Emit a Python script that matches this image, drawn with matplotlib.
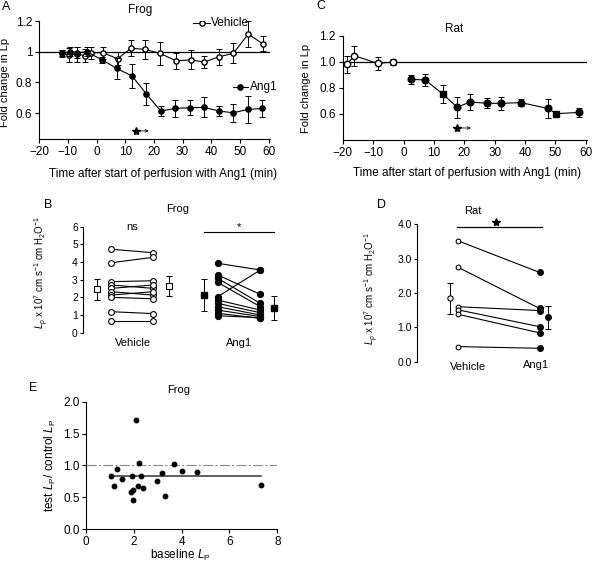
import numpy as np
import matplotlib
matplotlib.use("Agg")
import matplotlib.pyplot as plt

plt.rcParams['font.family'] = ['Liberation Sans', 'DejaVu Sans']
plt.rcParams['mathtext.fontset'] = 'custom'
plt.rcParams['mathtext.rm'] = 'Liberation Sans'
plt.rcParams['mathtext.it'] = 'Liberation Sans:italic'
plt.rcParams['font.size'] = 8
plt.rcParams['axes.linewidth'] = 0.8
plt.rcParams['xtick.major.size'] = 3
plt.rcParams['ytick.major.size'] = 3
plt.rcParams['xtick.major.width'] = 0.8
plt.rcParams['ytick.major.width'] = 0.8

W, H = 592, 566

# -----------------------------
# Panel A: frog time course
# -----------------------------
frog_veh_t = [-12.2, -9.5, -6.7, -4.1, -2.0, 2.3, 7.3, 12.0, 16.9, 22.1, 27.7, 32.8, 37.6, 42.7, 47.7, 52.9, 57.9]
frog_veh_y = [0.989, 0.978, 0.983, 0.974, 0.993, 0.993, 0.954, 1.022, 1.015, 0.989, 0.941, 0.946, 0.933, 0.967, 0.989, 1.115, 1.052]
frog_veh_err = [0.022, 0.043, 0.049, 0.043, 0.038, 0.038, 0.043, 0.051, 0.06, 0.076, 0.053, 0.062, 0.038, 0.051, 0.065, 0.082, 0.047]

frog_ang_t = [-12.2, -9.3, -6.7, -3.5, 2.0, 7.0, 12.4, 17.4, 22.4, 27.3, 32.6, 37.6, 42.7, 47.7, 52.9, 57.8]
frog_ang_y = [0.989, 1.0, 0.993, 1.0, 0.946, 0.891, 0.841, 0.724, 0.613, 0.63, 0.635, 0.637, 0.613, 0.602, 0.624, 0.63]
frog_ang_err = [0.02, 0.03, 0.035, 0.03, 0.022, 0.07, 0.076, 0.073, 0.035, 0.054, 0.049, 0.065, 0.035, 0.057, 0.089, 0.057]

# -----------------------------
# Panel C: rat time course
# -----------------------------
rat_veh_t = [-18.7, -16.2, -8.5, -3.5]
rat_veh_y = [0.98, 1.046, 0.987, 0.997]
rat_veh_err = [0.064, 0.078, 0.049, 0.023]

rat_ang_t = [2.3, 7.1, 13.0, 17.6, 22.0, 27.5, 32.0, 38.7, 47.6, 50.3, 57.8]
rat_ang_y = [0.864, 0.86, 0.75, 0.65, 0.69, 0.68, 0.68, 0.685, 0.64, 0.60, 0.61]
rat_ang_err = [0.032, 0.046, 0.068, 0.082, 0.065, 0.038, 0.049, 0.026, 0.07, 0.01, 0.037]

# -----------------------------
# Panel B: frog paired Lp
# -----------------------------
frog_veh_before = [4.72, 3.96, 2.89, 2.70, 2.51, 2.32, 2.13, 2.00, 1.19, 0.68]
frog_veh_after = [4.53, 4.27, 2.94, 2.51, 2.70, 2.13, 2.32, 1.92, 1.08, 0.68]
frog_veh_mean = [2.45, 2.64]
frog_veh_sem = [0.58, 0.57]

frog_ang_before = [3.93, 3.27, 3.08, 2.85, 2.04, 1.85, 1.66, 1.47, 1.28, 1.10, 0.96]
frog_ang_after = [3.55, 2.17, 1.66, 1.47, 3.55, 1.28, 1.13, 1.00, 0.91, 0.81, 0.85]
frog_ang_mean = [2.13, 1.42]
frog_ang_sem = [0.89, 0.68]

# -----------------------------
# Panel D: rat paired Lp
# -----------------------------
rat_before = [3.52, 2.75, 1.60, 1.51, 1.38, 0.44]
rat_after = [2.60, 1.55, 1.49, 1.02, 0.84, 0.39]
rat_mean = [1.85, 1.29]
rat_sem = [0.45, 0.33]

# -----------------------------
# Panel E: ratio vs baseline
# -----------------------------
base_lp = [1.04, 1.29, 1.19, 1.51, 1.88, 1.97, 1.96, 1.94, 2.08, 2.18, 2.22, 2.29, 2.40, 2.96, 3.17, 3.29, 3.69, 4.00, 4.65, 7.31]
ratio_lp = [0.835, 0.94, 0.68, 0.79, 0.59, 0.62, 0.46, 0.835, 1.72, 0.68, 1.04, 0.835, 0.65, 0.75, 0.89, 0.52, 1.02, 0.91, 0.90, 0.69]
ratio_mean = 0.84


def box(l, t, r, b):
    # pixel box -> figure fraction rect
    return [l / W, 1 - b / H, (r - l) / W, (b - t) / H]


def fpos(x, y):
    return x / W, 1 - y / H


fig = plt.figure(figsize=(W / 100, H / 100), dpi=100)

ebkw = dict(color='black', lw=0.8, elinewidth=0.7, capsize=2.2, capthick=0.7, mec='black')

# ---------- A ----------
axA = fig.add_axes(box(39.3, 21, 270, 138.7))
axA.axhline(1.0, color='black', lw=0.9, zorder=1)
axA.errorbar(frog_veh_t, frog_veh_y, yerr=frog_veh_err, fmt='-o', ms=3.8, mfc='white', zorder=3, **ebkw)
axA.errorbar(frog_ang_t, frog_ang_y, yerr=frog_ang_err, fmt='-o', ms=3.8, mfc='black', zorder=4, **ebkw)
axA.set_xlim(-20, 60.5)
axA.set_ylim(0.433, 1.2)
axA.set_xticks(range(-20, 61, 10))
axA.set_yticks([0.6, 0.8, 1.0, 1.2])
axA.set_yticklabels(['0.6', '0.8', '1', '1.2'])
axA.spines[['top', 'right']].set_visible(False)
axA.tick_params(labelsize=8.5, pad=2)
axA.set_ylabel('Fold change in Lp', fontsize=8)
axA.yaxis.set_label_coords(*fpos(10.5, 82), transform=fig.transFigure)
axA.set_xlabel('Time after start of perfusion with Ang1 (min)', fontsize=8.5)
axA.xaxis.set_label_coords(*fpos(163.5, 168), transform=fig.transFigure)
# in-plot series labels
axA.plot([33.5, 39.5], [1.19, 1.19], color='black', lw=0.8)
axA.plot([36.9], [1.19], 'o', ms=3.8, mfc='white', mec='black')
axA.text(39.8, 1.19, 'Vehicle', fontsize=8.5, va='center', ha='left')
axA.plot([47.7, 52.9], [0.767, 0.767], color='black', lw=0.8)
axA.plot([50.2], [0.767], 'o', ms=3.8, color='black')
axA.text(53.4, 0.767, 'Ang1', fontsize=8.5, va='center', ha='left')
# significance star + arrow
axA.plot([13.7], [0.484], marker='*', ms=6, color='black', clip_on=False)
axA.annotate('', xy=(18.2, 0.484), xytext=(15.0, 0.484),
             arrowprops=dict(arrowstyle='->', lw=0.6, color='black', shrinkA=0, shrinkB=0,
                             mutation_scale=5))
fig.text(*fpos(140, 9.5), 'Frog', fontsize=8.5, ha='center', va='center')
fig.text(*fpos(6, 7), 'A', fontsize=9, ha='center', va='center')

# ---------- C ----------
axC = fig.add_axes(box(342.8, 35.7, 586.7, 139.7))
axC.axhline(1.0, color='black', lw=0.9, zorder=1)
axC.errorbar(rat_veh_t, rat_veh_y, yerr=rat_veh_err, fmt='-o', ms=4.6, mfc='white', zorder=3, **ebkw)
axC.errorbar(rat_ang_t, rat_ang_y, yerr=rat_ang_err, fmt='-', zorder=3, **ebkw)
sq = [2, 9]
circ = [i for i in range(len(rat_ang_t)) if i not in sq]
axC.plot([rat_ang_t[i] for i in circ], [rat_ang_y[i] for i in circ], 'o', ms=4.8, color='black', zorder=4)
axC.plot([rat_ang_t[i] for i in sq], [rat_ang_y[i] for i in sq], 's', ms=4.6, color='black', zorder=4)
axC.set_xlim(-20, 60.3)
axC.set_ylim(0.4, 1.2)
axC.set_xticks(range(-20, 61, 10))
axC.set_yticks([0.6, 0.8, 1.0, 1.2])
axC.set_yticklabels(['0.6', '0.8', '1.0', '1.2'])
axC.spines[['top', 'right']].set_visible(False)
axC.tick_params(labelsize=8.5, pad=2)
axC.set_ylabel('Fold change in Lp', fontsize=8)
axC.yaxis.set_label_coords(*fpos(311, 88), transform=fig.transFigure)
axC.set_xlabel('Time after start of perfusion with Ang1 (min)', fontsize=8.5)
axC.xaxis.set_label_coords(*fpos(467.5, 167), transform=fig.transFigure)
axC.plot([17.6], [0.49], marker='*', ms=6, color='black', clip_on=False)
axC.annotate('', xy=(22.2, 0.49), xytext=(18.9, 0.49),
             arrowprops=dict(arrowstyle='->', lw=0.6, color='black', shrinkA=0, shrinkB=0,
                             mutation_scale=5))
fig.text(*fpos(454.3, 29.3), 'Rat', fontsize=8.5, ha='center', va='center')
fig.text(*fpos(320.7, 6), 'C', fontsize=9, ha='center', va='center')

# ---------- B ----------
axB = fig.add_axes(box(82.7, 226.7, 290, 332.7))
xb = dict(vm0=0.070, vp0=0.138, vp1=0.340, vm1=0.414, am0=0.586, ap0=0.651, ap1=0.857, am1=0.923)
for a, b in zip(frog_veh_before, frog_veh_after):
    axB.plot([xb['vp0'], xb['vp1']], [a, b], '-o', color='black', lw=0.8, ms=4.2,
             mfc='white', mec='black', mew=0.8, clip_on=False)
for a, b in zip(frog_ang_before, frog_ang_after):
    axB.plot([xb['ap0'], xb['ap1']], [a, b], '-o', color='black', lw=0.8, ms=4.2,
             mec='black', clip_on=False)
axB.errorbar([xb['vm0'], xb['vm1']], frog_veh_mean, yerr=frog_veh_sem, fmt='s', ms=4.8,
             mfc='white', mec='black', mew=0.8, ecolor='black', elinewidth=0.7, capsize=2, capthick=0.7)
axB.errorbar([xb['am0'], xb['am1']], frog_ang_mean, yerr=frog_ang_sem, fmt='s', ms=4.8,
             color='black', elinewidth=0.7, capsize=2, capthick=0.7)
axB.plot([xb['am0'] - 0.003, xb['am1']], [5.72, 5.72], color='black', lw=0.8, clip_on=False)
axB.text((xb['am0'] + xb['am1']) / 2, 6.0, '*', fontsize=8, ha='center', va='center')
axB.text((xb['vp0'] + xb['vp1']) / 2, 6.0, 'ns', fontsize=8, ha='center', va='center')
axB.set_xlim(0, 1)
axB.set_ylim(0, 6)
axB.set_yticks(range(0, 7))
axB.set_xticks([])
axB.spines[['top', 'right', 'bottom']].set_visible(False)
axB.tick_params(axis='y', labelsize=7.5, pad=1, length=2.5)
axB.set_ylabel(r'$L_p$ x 10$^7$ cm s$^{-1}$ cm H$_2$O$^{-1}$', fontsize=7)
axB.yaxis.set_label_coords(*fpos(51, 272), transform=fig.transFigure)
fig.text(*fpos(133.3, 343.5), 'Vehicle', fontsize=8, ha='center', va='center')
fig.text(*fpos(239, 343), 'Ang1', fontsize=8, ha='center', va='center')
fig.text(*fpos(177.3, 209), 'Frog', fontsize=8, ha='center', va='center')
fig.text(*fpos(48.5, 205), 'B', fontsize=9, ha='center', va='center')

# ---------- D ----------
axD = fig.add_axes(box(416.7, 224.3, 560, 361.7))
xd = dict(m0=0.229, p0=0.288, p1=0.857, m1=0.913)
for a, b in zip(rat_before, rat_after):
    axD.plot([xd['p0'], xd['p1']], [a, b], color='black', lw=0.8)
    axD.plot([xd['p0']], [a], 'o', ms=3.4, mfc='white', mec='black', mew=0.8)
    axD.plot([xd['p1']], [b], 'o', ms=4.0, color='black')
axD.errorbar([xd['m0']], rat_mean[:1], yerr=rat_sem[:1], fmt='o', ms=3.8, mfc='white', mec='black',
             mew=0.8, ecolor='black', elinewidth=0.7, capsize=2.2, capthick=0.7)
axD.errorbar([xd['m1']], rat_mean[1:], yerr=rat_sem[1:], fmt='o', ms=4.0, color='black',
             elinewidth=0.7, capsize=2.2, capthick=0.7)
axD.plot([xd['p0'] - 0.01, xd['p1'] + 0.02], [3.92, 3.92], color='black', lw=0.9, clip_on=False)
axD.plot([(xd['p0'] + xd['p1']) / 2 - 0.02], [4.06], marker='*', ms=6, color='black', clip_on=False)
axD.set_xlim(0, 1)
axD.set_ylim(0, 4)
axD.set_yticks([0, 1, 2, 3, 4])
axD.set_yticklabels(['0.0', '1.0', '2.0', '3.0', '4.0'])
axD.set_xticks([])
axD.spines[['top', 'right', 'bottom']].set_visible(False)
axD.tick_params(axis='y', labelsize=7.5, pad=1, length=2.5)
axD.set_ylabel(r'$L_p$ x 10$^7$ cm s$^{-1}$ cm H$_2$O$^{-1}$', fontsize=7)
axD.yaxis.set_label_coords(*fpos(381, 288), transform=fig.transFigure)
fig.text(*fpos(468.3, 367), 'Vehicle', fontsize=8, ha='center', va='center')
fig.text(*fpos(536, 364.5), 'Ang1', fontsize=8, ha='center', va='center')
fig.text(*fpos(473.3, 210.7), 'Rat', fontsize=8, ha='center', va='center')
fig.text(*fpos(381.7, 205), 'D', fontsize=9, ha='center', va='center')

# ---------- E ----------
axE = fig.add_axes(box(86, 401.7, 277.3, 529.3))
axE.axhline(1.0, color='#888888', lw=0.8, ls=(0, (9, 2, 2, 2)), zorder=1)
axE.plot([min(base_lp), max(base_lp)], [ratio_mean, ratio_mean], color='#333333', lw=1.1, zorder=2)
axE.plot(base_lp, ratio_lp, 'o', ms=3.2, color='black', zorder=3)
axE.set_xlim(0, 8)
axE.set_ylim(0, 2)
axE.set_xticks([0, 2, 4, 6, 8])
axE.set_yticks([0, 0.5, 1.0, 1.5, 2.0])
axE.set_yticklabels(['0.0', '0.5', '1.0', '1.5', '2.0'])
axE.spines[['top', 'right']].set_visible(False)
axE.tick_params(labelsize=8.5, pad=1.5, length=3)
axE.set_ylabel(r'test $L_\mathrm{P}$/ control $L_\mathrm{P}$', fontsize=8.5)
axE.yaxis.set_label_coords(*fpos(58, 465), transform=fig.transFigure)
axE.set_xlabel(r'baseline $L_\mathrm{P}$', fontsize=8.5)
axE.xaxis.set_label_coords(*fpos(180, 548), transform=fig.transFigure)
fig.text(*fpos(179, 390), 'Frog', fontsize=8, ha='center', va='center')
fig.text(*fpos(33, 388), 'E', fontsize=9, ha='center', va='center')

fig.savefig('out.png', dpi=100)
